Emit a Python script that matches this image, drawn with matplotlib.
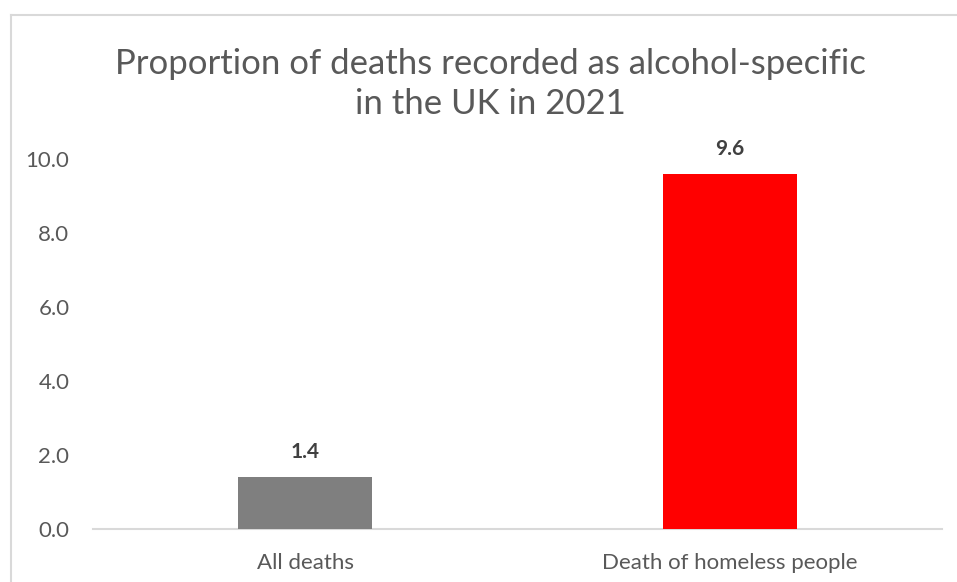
import matplotlib.pyplot as plt
from matplotlib.lines import Line2D

# Data
categories = ['All deaths', 'Death of homeless people']
values = [1.4, 9.6]
bar_colors = ['#7f7f7f', '#ff0000']
y_ticks = [0, 2, 4, 6, 8, 10]

plt.rcParams['font.family'] = ['Lato', 'DejaVu Sans']
W, H = 957, 582
fig = plt.figure(figsize=(W / 100, H / 100), dpi=100)
ax = fig.add_axes([93 / W, (H - 529) / H, (942 - 93) / W, (529 - 159) / H])

x = range(len(categories))
ax.bar(x, values, width=0.316, color=bar_colors, zorder=3)
for xi, v in zip(x, values):
    ax.annotate(f'{v:.1f}', (xi, v), xytext=(0, 11), textcoords='offset points',
                ha='center', va='bottom', fontsize=15, fontweight='bold',
                color='#404040')

ax.set_xlim(-0.5, 1.5)
ax.set_ylim(0, 10)
ax.set_yticks(y_ticks)
ax.set_yticklabels([f'{t:.1f}' for t in y_ticks])
ax.set_xticks(list(x))
ax.set_xticklabels(categories)
ax.tick_params(axis='both', length=0, labelsize=16, colors='#595959')
ax.tick_params(axis='y', pad=17)
ax.tick_params(axis='x', pad=17)
for side in ['top', 'right', 'left']:
    ax.spines[side].set_visible(False)
ax.spines['bottom'].set_color('#d9d9d9')
ax.spines['bottom'].set_linewidth(1.5)

# chart border (top and left edges)
fig.add_artist(Line2D([11 / W, 1], [1 - 15 / H, 1 - 15 / H], color='#d9d9d9', lw=1.5))
fig.add_artist(Line2D([11 / W, 11 / W], [0, 1 - 15 / H], color='#d9d9d9', lw=1.5))

fig.text(490 / W, 1 - 84 / H, 'Proportion of deaths recorded as alcohol-specific\nin the UK in 2021',
         ha='center', va='center', fontsize=25, color='#595959', linespacing=1.3)

fig.savefig('out.png', dpi=100)
